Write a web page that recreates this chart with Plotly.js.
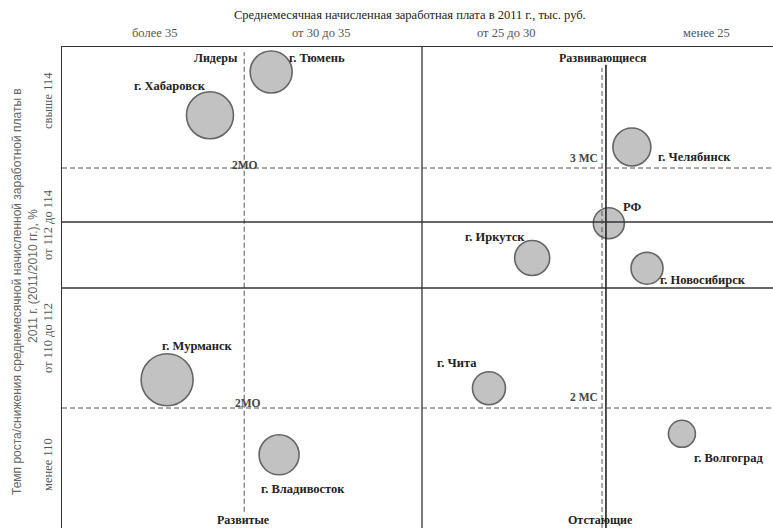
<!DOCTYPE html>
<html><head><meta charset="utf-8">
<script src="https://cdn.plot.ly/plotly-3.0.1.min.js"></script>
<style>html,body{margin:0;padding:0;background:#fff}#chart{width:773px;height:528px}</style>
</head><body><div id="chart"></div>
<script>
// Data (schematic positions)
const regions = ['г. Тюмень','г. Хабаровск','г. Челябинск','РФ','г. Иркутск','г. Новосибирск','г. Мурманск','г. Чита','г. Владивосток','г. Волгоград'];
const salary = [34.19, 35.89, 24.17, 24.81, 26.94, 23.75, 37.08, 28.14, 33.97, 22.78];      // тыс. руб.
const growth = [115.6, 114.88, 114.35, 113.08, 112.5, 112.33, 110.47, 110.33, 109.22, 109.57]; // %
const bubbleValue = [42, 47, 38, 31, 35, 32, 52, 33, 40, 27];
const xCategories = ['более 35','от 30 до 35','от 25 до 30','менее 25'];
const yCategories = ['свыше 114','от 112 до 114','от 110 до 112','менее 110'];
const quadrants = ['Лидеры','Развивающиеся','Развитые','Отстающие'];
const salaryBounds = [30, 24.89];      // solid vertical lines
const salaryMarks = [34.94, 25.0];     // dashed vertical lines
const growthBounds = [113.1, 112.0];   // solid horizontal lines
const growthMarks = [114, 110];        // dashed horizontal lines
const markLabels = ['2МО','2МО','3 МС','2 МС'];

const serif = 'Liberation Serif, Times New Roman, serif';
const sans = 'Liberation Sans, Arial, sans-serif';

const trace = {
  type: 'scatter', mode: 'markers', x: salary, y: growth, text: regions,
  hoverinfo: 'text',
  marker: {size: bubbleValue, sizemode: 'diameter', sizeref: 1, color: '#c2c2c2', opacity: 1,
           line: {color: '#666', width: 1.6}}
};

const shapes = [];
const solid = {color: '#333', width: 1.3};
const dashed = {color: '#555', width: 1, dash: '5px,3px'};
shapes.push({type:'line', xref:'x', yref:'paper', x0:salaryBounds[0], x1:salaryBounds[0], y0:0, y1:1, line:solid});
shapes.push({type:'line', xref:'x', yref:'y', x0:salaryBounds[1], x1:salaryBounds[1], y0:108, y1:115.72, line:{color:'#222', width:1.6}});
shapes.push({type:'line', xref:'x', yref:'y', x0:salaryMarks[0], x1:salaryMarks[0], y0:108.27, y1:115.93, line:dashed});
shapes.push({type:'line', xref:'x', yref:'y', x0:salaryMarks[1], x1:salaryMarks[1], y0:108, y1:115.67, line:dashed});
growthBounds.forEach(v => shapes.push({type:'line', xref:'paper', yref:'y', x0:0, x1:1, y0:v, y1:v, line:solid}));
growthMarks.forEach(v => shapes.push({type:'line', xref:'paper', yref:'y', x0:0, x1:1, y0:v, y1:v, line:dashed}));

const ann = [];
// titles
ann.push({xref:'paper', yref:'paper', x:0.4895, y:1.0665, text:'Среднемесячная начисленная заработная плата в 2011 г., тыс. руб.',
  showarrow:false, font:{family:serif, size:12.5, color:'#222'}, xanchor:'center', yanchor:'middle'});
const xCatPos = [0.1308, 0.3643, 0.6245, 0.9058];
xCategories.forEach((t,i)=>ann.push({xref:'paper', yref:'paper', x:xCatPos[i], y:1.0291, text:t, showarrow:false,
  font:{family:serif, size:12.5, color:'#555'}, xanchor:'center', yanchor:'middle'}));
const yCatPos = [0.8898, 0.6320, 0.3950, 0.1331];
yCategories.forEach((t,i)=>ann.push({xref:'paper', yref:'paper', x:-0.0197, y:yCatPos[i], text:t, textangle:-90, showarrow:false,
  font:{family:serif, size:12.5, color:'#555'}, xanchor:'center', yanchor:'middle'}));
ann.push({xref:'paper', yref:'paper', x:-0.0633, y:0.4927, text:'Темп роста/снижения среднемесячной начисленной заработной платы в',
  textangle:-90, showarrow:false, font:{family:sans, size:12, color:'#666'}, xanchor:'center', yanchor:'middle'});
ann.push({xref:'paper', yref:'paper', x:-0.0408, y:0.5239, text:'2011 г. (2011/2010 гг.), %',
  textangle:-90, showarrow:false, font:{family:sans, size:12, color:'#666'}, xanchor:'center', yanchor:'middle'});
// quadrant labels
const qPos = [[0.2504,0.9771,'right'],[0.7609,0.9771,'center'],[0.2546,0.0166,'center'],[0.7567,0.0166,'center']];
quadrants.forEach((t,i)=>ann.push({xref:'paper', yref:'paper', x:qPos[i][0], y:qPos[i][1], text:'<b>'+t+'</b>', showarrow:false,
  font:{family:serif, size:12, color:'#222'}, xanchor:qPos[i][2], yanchor:'middle'}));
// threshold labels
const mk = [[salaryMarks[0],growthMarks[0],'center',1,3],[salaryMarks[0],growthMarks[1],'center',4,5],
            [salaryMarks[1],growthMarks[0],'right',-2,10],[salaryMarks[1],growthMarks[1],'right',-2,11]];
markLabels.forEach((t,i)=>ann.push({xref:'x', yref:'y', x:mk[i][0], y:mk[i][1], text:'<b>'+t+'</b>', showarrow:false,
  xanchor:mk[i][2], yanchor:'middle', xshift:mk[i][3], yshift:mk[i][4], font:{family:serif, size:11.5, color:'#444'}}));
// region labels
const off = [['left',16,14],['center',-40,29],['left',24,-10],['left',12,16],['center',-37,21],
             ['left',11,-12],['center',30,34],['center',-32,25],['center',24,-34],['center',47,-24]];
regions.forEach((t,i)=>ann.push({xref:'x', yref:'y', x:salary[i], y:growth[i], text:'<b>'+t+'</b>', showarrow:false,
  xanchor:off[i][0], yanchor:'middle', xshift:off[i][1], yshift:off[i][2], font:{family:serif, size:12.5, color:'#222'}}));

const layout = {
  width:773, height:528, margin:{l:62, r:0, t:47, b:0, pad:0},
  paper_bgcolor:'#fff', plot_bgcolor:'#fff', showlegend:false,
  xaxis:{range:[40,20.25], showgrid:false, zeroline:false, showticklabels:false, ticks:'', showline:true,
         side:'top', linecolor:'#333', linewidth:1.5, fixedrange:true},
  yaxis:{range:[108,116.0167], showgrid:false, zeroline:false, showticklabels:false, ticks:'', showline:true,
         linecolor:'#333', linewidth:1.5, fixedrange:true},
  shapes:shapes, annotations:ann
};
Plotly.newPlot('chart', [trace], layout, {displayModeBar:false, staticPlot:true});
</script></body></html>
